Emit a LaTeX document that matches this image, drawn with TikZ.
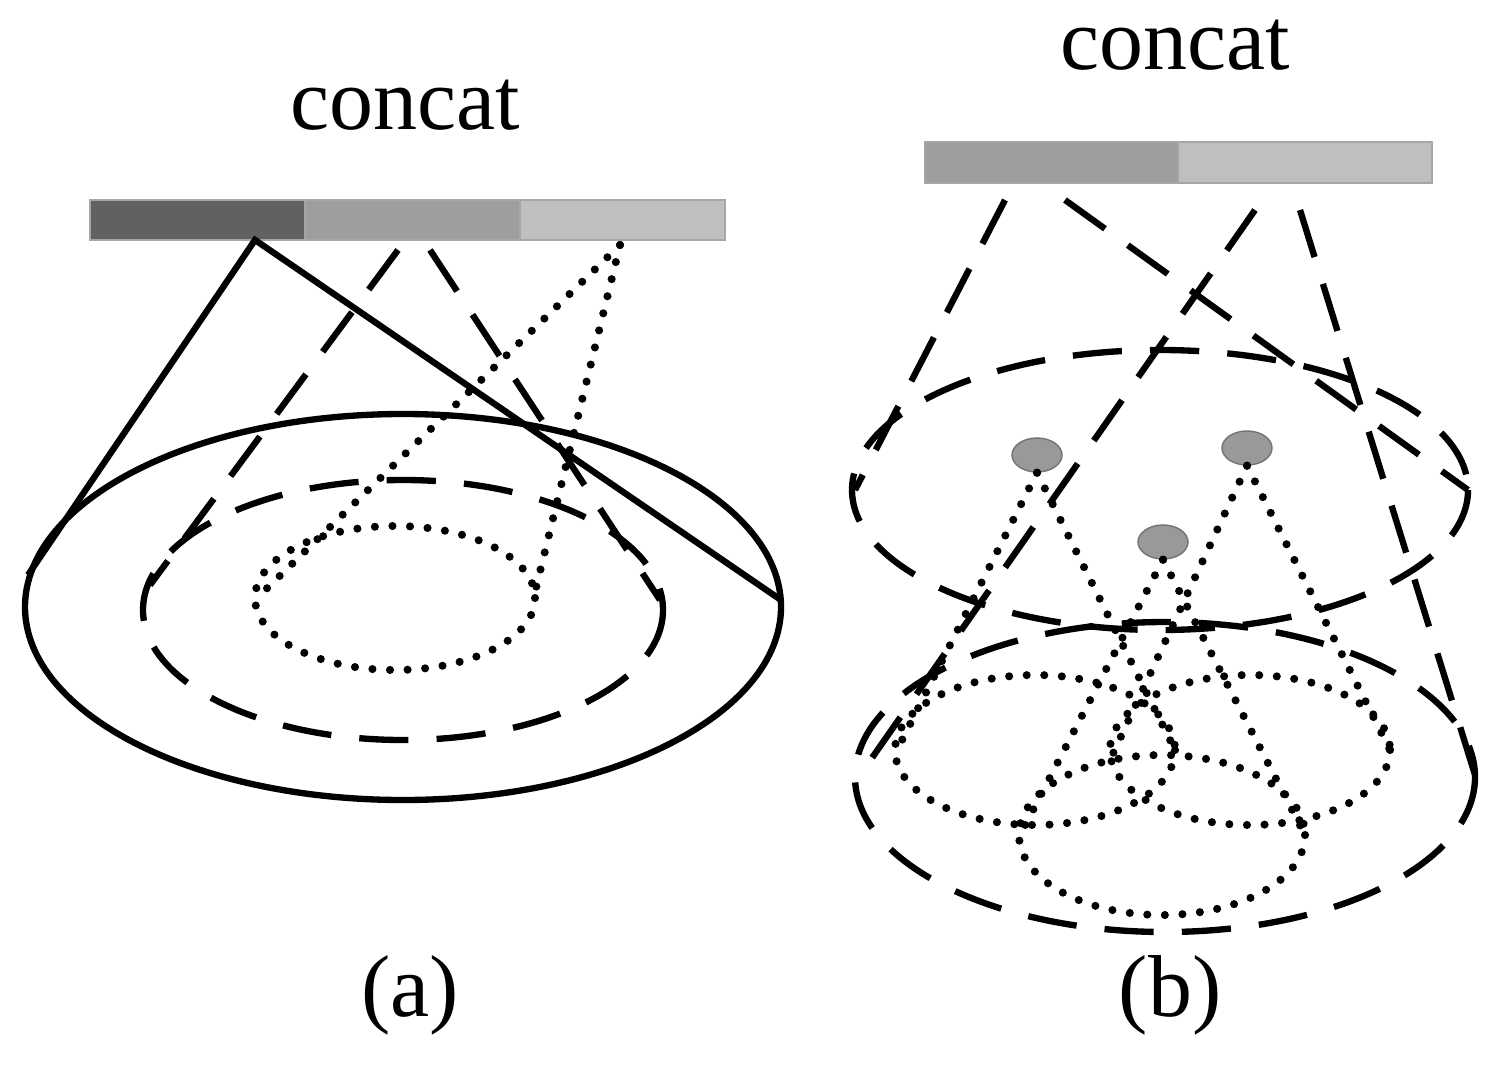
\documentclass[tikz,border=0pt]{standalone}
\usepackage{fontspec}
\usetikzlibrary{shapes.geometric}
\setmainfont{Liberation Serif}
\begin{document}
\begin{tikzpicture}[x=0.01cm,y=-0.01cm,
  sol/.style={line width=1.8pt},
  dsh/.style={line width=1.8pt,dash pattern=on 14pt off 8pt},
  dot/.style={line width=2.3pt,dash pattern=on 0pt off 5pt,line cap=round},
  lbl/.style={font=\fontsize{25}{30}\selectfont},
  seg/.style={draw=gray!70,line width=0.4pt}]
\useasboundingbox (0,0) rectangle (1504,1079);
% ---- (a) ----
\node[lbl] (ca) at (405,105) {concat};
\filldraw[seg,fill=black!62] (90,200) rectangle (305,240);
\filldraw[seg,fill=black!38] (305,200) rectangle (520,240);
\filldraw[seg,fill=black!25] (520,200) rectangle (725,240);
\coordinate (pa) at (255,240);
\coordinate (la) at (28,575);
\coordinate (ra) at (781,600);
\draw[sol] (403,607) ellipse [x radius=378,y radius=193];
\draw[sol] (la) -- (pa) -- (ra);
\draw[dsh] (403,610) ellipse [x radius=260,y radius=130];
\coordinate (d1) at (398,250);
\coordinate (d2) at (430,250);
\draw[dsh] (d1) -- (150,585);
\draw[dsh] (d2) -- (660,600);
\draw[dot] (395,598) ellipse [x radius=140,y radius=72];
\coordinate (t1) at (620,245);
\draw[dot] (t1) -- (258,597);
\draw[dot] (t1) -- (535,592);
\node[lbl] (la1) at (410,995) {(a)};
% ---- (b) ----
\node[lbl] (cb) at (1175,45) {concat};
\filldraw[seg,fill=black!38] (925,142) rectangle (1178,183);
\filldraw[seg,fill=black!25] (1178,142) rectangle (1432,183);
\draw[dsh] (1160,490) ellipse [x radius=308,y radius=140];
\draw[dsh] (1165,777) ellipse [x radius=310,y radius=155];
\draw[dsh] (1005,200) -- (855,490);
\draw[dsh] (1065,200) -- (1468,490);
\draw[dsh] (1255,210) -- (860,775);
\draw[dsh] (1300,210) -- (1475,775);
\draw[dot] (1035,750) ellipse [x radius=140,y radius=75];
\draw[dot] (1250,750) ellipse [x radius=140,y radius=75];
\draw[dot] (1162,835) ellipse [x radius=143,y radius=80];
\foreach \n/\x/\y in {g1/1037/455,g2/1247/448,g3/1163/542}
  \node[ellipse,minimum width=0.5cm,minimum height=0.34cm,inner sep=0,fill=black!40,draw=black!55] (\n) at (\x,\y) {};
\draw[dot] (g1.south) -- (897,750);
\draw[dot] (g1.south) -- (1175,750);
\draw[dot] (g2.south) -- (1110,760);
\draw[dot] (g2.south) -- (1390,750);
\draw[dot] (g3.south) -- (1020,835);
\draw[dot] (g3.south) -- (1305,835);
\node[lbl] (lb1) at (1170,995) {(b)};
\end{tikzpicture}
\end{document}
